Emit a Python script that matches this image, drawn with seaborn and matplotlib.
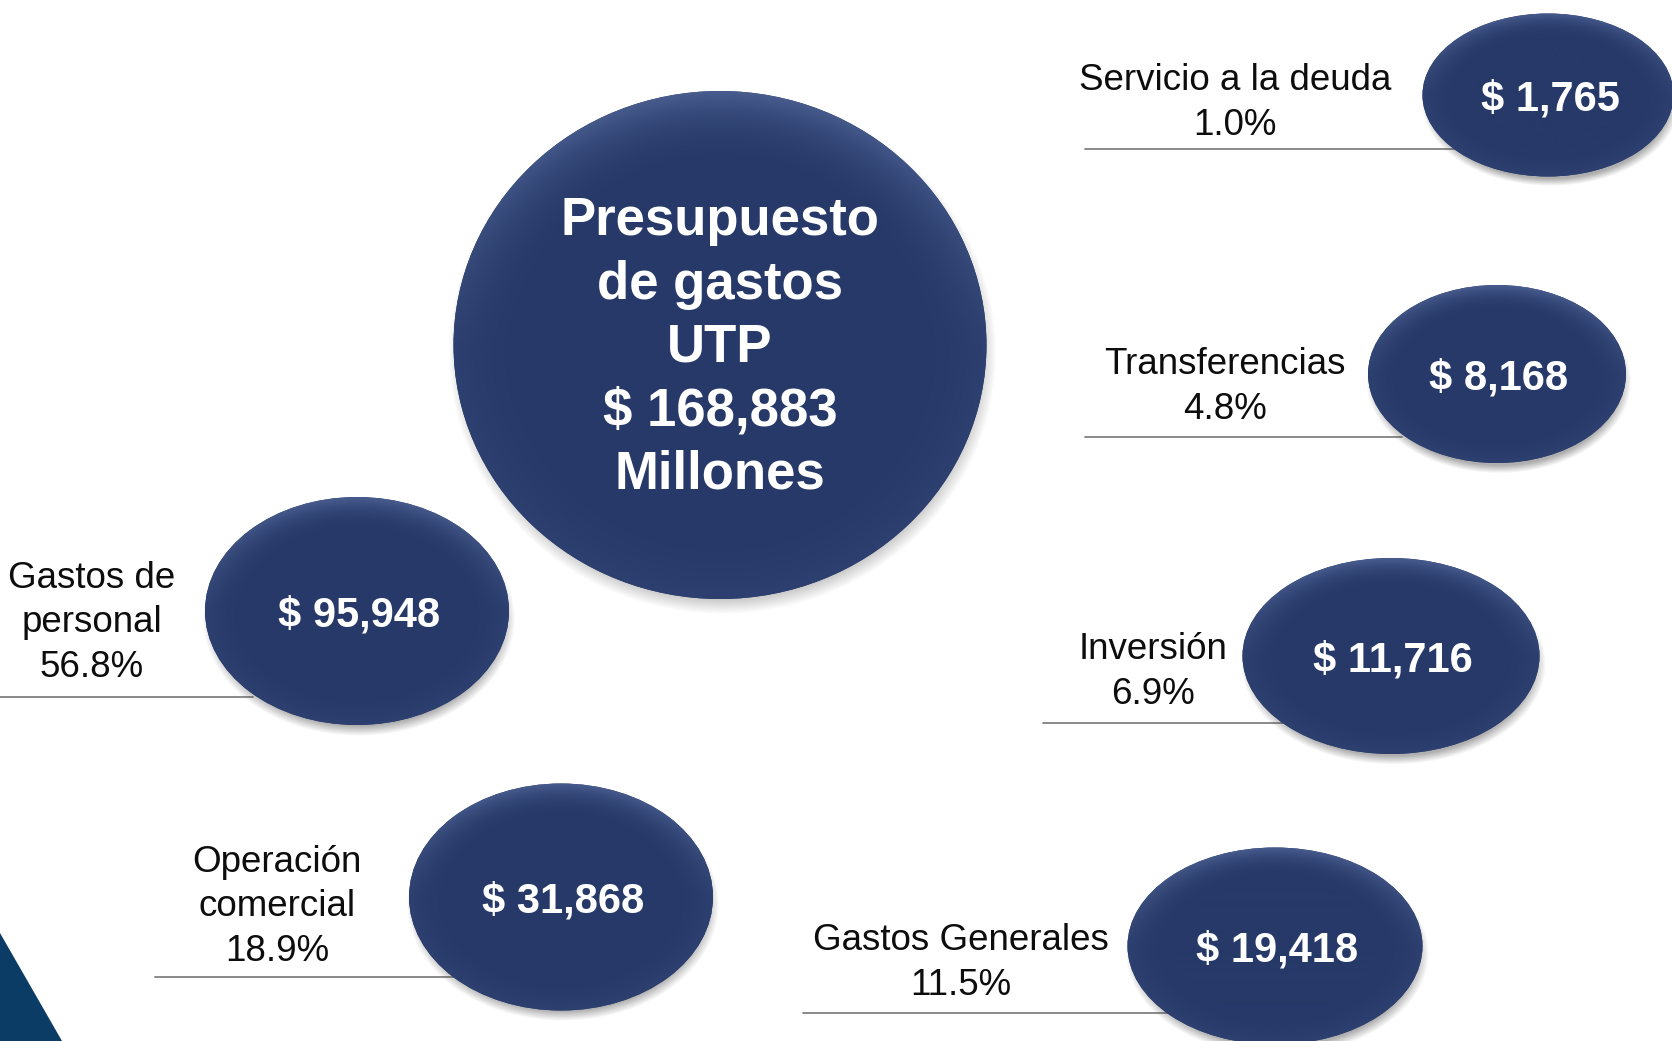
import numpy as np
import matplotlib.pyplot as plt
import seaborn as sns
from matplotlib.patches import Ellipse, Polygon
from matplotlib.colors import to_rgb

sns.set_theme(style="white")
plt.rcParams['font.family'] = ['Liberation Sans', 'DejaVu Sans']

# Data (millones de pesos)
categories = ["Servicio a la deuda", "Transferencias", "Inversión",
              "Gastos Generales", "Gastos de\npersonal", "Operación\ncomercial"]
amounts = [1765, 8168, 11716, 19418, 95948, 31868]
shares = [1.0, 4.8, 6.9, 11.5, 56.8, 18.9]
total_amount = 168883
total_title = "Presupuesto\nde gastos\nUTP"

# Layout in pixel coordinates (y down)
bubble_xy = [(1548, 95), (1497, 374), (1391, 656), (1275, 946), (357, 611), (561, 897)]
bubble_wh = [(251, 163), (258, 178), (297, 196), (295, 197), (304, 228), (304, 227)]
label_xy = [(1235, 103), (1225, 387), (1153, 672), (961, 963), (92, 623), (277, 907)]
rule_y = [149, 437, 723, 1013, 697, 977]
rule_x = [(1085, 1455), (1085, 1402), (1043, 1285), (803, 1168), (0, 253), (155, 456)]
center_xy = (720, 345)
center_wh = (533, 508)

W, H = 1672, 1041
NAVY = np.array(to_rgb('#263968'))
LIGHT = np.array(to_rgb('#6479ad'))


def bubble(ax, cx, cy, w, h):
    pad = 30
    x0, x1 = cx - w / 2 - pad, cx + w / 2 + pad
    y0, y1 = cy - h / 2 - pad, cy + h / 2 + pad
    nx, ny = int(x1 - x0), int(y1 - y0)
    X, Y = np.meshgrid(np.linspace(x0, x1, nx), np.linspace(y0, y1, ny))

    # soft drop shadow
    rs = np.sqrt(((X - cx - 2) / (w / 2)) ** 2 + ((Y - cy - 8) / (h / 2)) ** 2)
    shadow = np.zeros((ny, nx, 4))
    shadow[..., :3] = 0.3
    shadow[..., 3] = np.clip((1.03 - rs) / 0.09, 0, 1) * 0.45
    ax.imshow(shadow, extent=(x0, x1, y1, y0), origin='upper',
              interpolation='bilinear', zorder=2)

    # body with a light bevel on the upper rim
    e = Ellipse((cx, cy), w, h, facecolor=NAVY, edgecolor='none', zorder=3)
    ax.add_patch(e)
    r = np.sqrt(((X - cx) / (w / 2)) ** 2 + ((Y - cy) / (h / 2)) ** 2)
    top = np.clip(-(Y - cy) / (h / 2), 0, 1)
    rim = np.clip((r - 0.7) / 0.3, 0, 1) ** 2
    k = (rim * (0.2 + 0.8 * top) * 0.55)[..., None]
    img = NAVY * (1 - k) + LIGHT * k
    im = ax.imshow(img, extent=(x0, x1, y1, y0), origin='upper',
                   interpolation='bilinear', zorder=4)
    im.set_clip_path(e)


fig = plt.figure(figsize=(W / 100, H / 100), dpi=100)
ax = fig.add_axes([0, 0, 1, 1])

# corner decoration
ax.add_patch(Polygon([(0, 933), (62, H), (0, H)], closed=True,
                     facecolor='#0b3c66', edgecolor='none', zorder=1))

# central bubble
bubble(ax, *center_xy, *center_wh)
ax.text(center_xy[0], center_xy[1] + 3,
        f"{total_title}\n$ {total_amount:,}\nMillones",
        ha='center', va='center', multialignment='center', color='white',
        fontsize=38, fontweight='bold', linespacing=1.345, zorder=6)

for cat, amt, pct, (bx, by), (bw, bh), (lx, ly), ry, (rx0, rx1) in zip(
        categories, amounts, shares, bubble_xy, bubble_wh, label_xy, rule_y, rule_x):
    ax.plot([rx0, rx1], [ry, ry], color='#808080', lw=1.3, zorder=1.5)
    bubble(ax, bx, by, bw, bh)
    ax.text(bx + 2, by, f"$ {amt:,}", ha='center', va='center_baseline',
            color='white', fontsize=30, fontweight='bold', zorder=6)
    ax.text(lx, ly, f"{cat}\n{pct:.1f}%", ha='center', va='center',
            multialignment='center', color='#0d0d0d', fontsize=26.5,
            linespacing=1.37, zorder=6)

ax.set_xlim(0, W)
ax.set_ylim(H, 0)
ax.set_axis_off()

fig.savefig('out.png', dpi=100)
plt.close(fig)
